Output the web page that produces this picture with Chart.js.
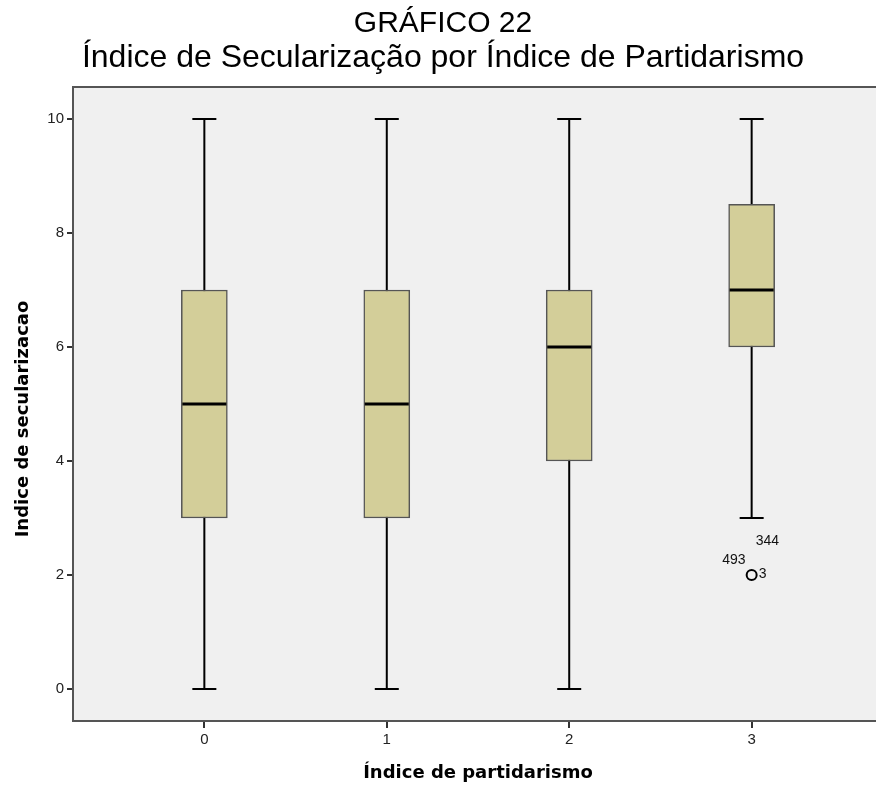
<!DOCTYPE html>
<html>
<head>
<meta charset="utf-8">
<script src="https://cdn.jsdelivr.net/npm/chart.js@4"></script>
<style>
  html, body { margin: 0; padding: 0; background: #fff; overflow: hidden; }
  #wrap { position: absolute; left: 0; top: 0; width: 890px; height: 787px; }
</style>
</head>
<body>
<div id="wrap"><canvas id="chart22"></canvas></div>
<script>
const boxFill = '#D3CE99';
const boxLine = '#555555';
const plotBg = '#F0F0F0';

// partidarismo categories and the five-number summaries
const categories = [0, 1, 2, 3];
const whiskerLow = [0, 0, 0, 3];
const quartile1 = [3, 3, 4, 6];
const medians = [5, 5, 6, 7];
const quartile3 = [7, 7, 7, 8.5];
const whiskerHigh = [10, 10, 10, 10];

// outlier (same value for the three cases)
const outlierCat = [3];
const outlierValue = [2];
const outlierCases = ['3', '493', '344'];

const yTicks = [0, 2, 4, 6, 8, 10];
const xTicks = [0, 1, 2, 3];

const tickFont = { family: 'Liberation Sans, Arial', size: 15 };
const axisTitleFont = 'bold 18px DejaVu Sans';

const boxPlotExtras = {
  id: 'boxPlotExtras',
  beforeDraw(chart) {
    const { ctx, chartArea: a } = chart;
    ctx.save();
    ctx.fillStyle = plotBg;
    ctx.fillRect(a.left, a.top, a.right - a.left, a.bottom - a.top);
    ctx.restore();
  },
  beforeDatasetsDraw(chart) {
    const { ctx, scales: { x, y } } = chart;
    ctx.save();
    ctx.strokeStyle = '#000';
    ctx.lineWidth = 2;
    categories.forEach((c, i) => {
      const px = x.getPixelForValue(c);
      const lo = y.getPixelForValue(whiskerLow[i]);
      const hi = y.getPixelForValue(whiskerHigh[i]);
      ctx.beginPath();
      ctx.moveTo(px, lo); ctx.lineTo(px, hi);
      ctx.moveTo(px - 12, lo); ctx.lineTo(px + 12, lo);
      ctx.moveTo(px - 12, hi); ctx.lineTo(px + 12, hi);
      ctx.stroke();
    });
    ctx.restore();
  },
  afterDatasetsDraw(chart) {
    const { ctx, chartArea: a, scales: { x, y } } = chart;
    ctx.save();
    ctx.strokeStyle = '#000';
    ctx.lineWidth = 3;
    categories.forEach((c, i) => {
      const px = x.getPixelForValue(c);
      const py = y.getPixelForValue(medians[i]);
      ctx.beginPath();
      ctx.moveTo(px - 22, py); ctx.lineTo(px + 22, py);
      ctx.stroke();
    });
    // case numbers of the outliers
    ctx.fillStyle = '#111';
    ctx.font = '14px Liberation Sans, Arial';
    ctx.textBaseline = 'middle';
    const ox = x.getPixelForValue(outlierCat[0]);
    const oy = y.getPixelForValue(outlierValue[0]);
    ctx.textAlign = 'left';
    ctx.fillText(outlierCases[0], ox + 7, oy - 1);
    ctx.textAlign = 'right';
    ctx.fillText(outlierCases[1], ox - 6, oy - 15);
    ctx.textAlign = 'left';
    ctx.fillText(outlierCases[2], ox + 4, oy - 34);
    // frame
    ctx.strokeStyle = '#555';
    ctx.lineWidth = 2;
    ctx.strokeRect(a.left, a.top, a.right - a.left, a.bottom - a.top);
    // y axis title
    ctx.fillStyle = '#000';
    ctx.font = axisTitleFont;
    ctx.textAlign = 'center';
    ctx.translate(23, (a.top + a.bottom) / 2 + 15);
    ctx.rotate(-Math.PI / 2);
    ctx.fillText('Indice de secularizacao', 0, 0);
    ctx.restore();
  }
};

new Chart(document.getElementById('chart22'), {
  type: 'bar',
  data: {
    datasets: [{
      label: 'caixa',
      data: categories.map((c, i) => ({ x: c, y: [quartile1[i], quartile3[i]] })),
      backgroundColor: boxFill,
      borderColor: boxLine,
      borderWidth: 1.5,
      borderSkipped: false,
      barThickness: 46,
    }, {
      type: 'scatter',
      label: 'outlier',
      data: outlierCat.map((c, i) => ({ x: c, y: outlierValue[i] })),
      pointRadius: 5,
      pointBorderWidth: 2,
      pointBackgroundColor: 'rgba(0,0,0,0)',
      pointBorderColor: '#000',
    }]
  },
  options: {
    responsive: true,
    maintainAspectRatio: false,
    animation: false,
    layout: { padding: { left: 0, right: 4, top: 0, bottom: 0 } },
    plugins: {
      legend: { display: false },
      tooltip: { enabled: false },
      title: {
        display: true,
        text: 'GRÁFICO 22',
        color: '#000',
        font: { family: 'Liberation Sans, Arial', size: 30, weight: 'normal', lineHeight: 1 },
        padding: { top: 9, bottom: 0 },
      },
      subtitle: {
        display: true,
        text: 'Índice de Secularização por Índice de Partidarismo',
        color: '#000',
        font: { family: 'Liberation Sans, Arial', size: 32, weight: 'normal', lineHeight: 1 },
        padding: { top: 3, bottom: 13 },
      },
    },
    scales: {
      x: {
        type: 'linear',
        min: -0.72,
        max: 3.72,
        offset: false,
        afterBuildTicks: (s) => { s.ticks = xTicks.map(v => ({ value: v })); },
        afterFit: (s) => { s.height = 66; },
        grid: { offset: false, drawOnChartArea: false, drawTicks: true, tickLength: 7, color: '#333', lineWidth: 2 },
        border: { display: false },
        ticks: { font: tickFont, color: '#222', padding: 3 },
        title: {
          display: true,
          text: 'Índice de partidarismo',
          font: { family: 'DejaVu Sans', size: 18, weight: 'bold' },
          color: '#000',
          padding: { top: 0, bottom: 3 },
        },
      },
      y: {
        min: -0.56,
        max: 10.56,
        afterBuildTicks: (s) => { s.ticks = yTicks.map(v => ({ value: v })); },
        afterFit: (s) => { s.width = 73; },
        grid: { drawOnChartArea: false, drawTicks: true, tickLength: 6, color: '#333', lineWidth: 2 },
        border: { display: false },
        ticks: { font: tickFont, color: '#222', padding: 3 },
      },
    },
  },
  plugins: [boxPlotExtras],
});
</script>
</body>
</html>
